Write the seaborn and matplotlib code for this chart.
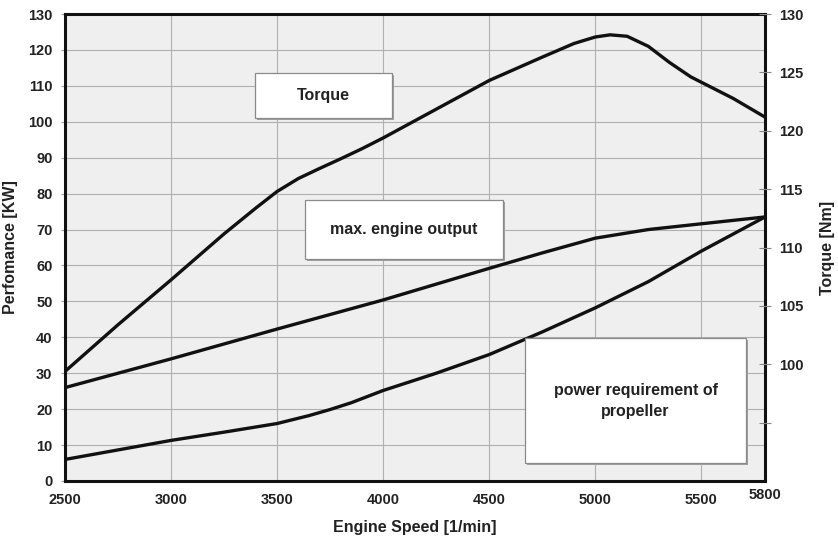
import matplotlib
matplotlib.use("Agg")
import matplotlib.pyplot as plt
import seaborn as sns
import pandas as pd
from matplotlib.patches import Rectangle

# ---- data ----
torque_rpm = [2500, 2750, 3000, 3250, 3400, 3500, 3600, 3700, 3800, 3900, 4000, 4250, 4500, 4750, 4900, 5000, 5070, 5150, 5250, 5350, 5450, 5550, 5650, 5800]
torque_val = [30.5, 43.5, 56.0, 68.8, 76.0, 80.6, 84.2, 87.0, 89.7, 92.5, 95.5, 103.5, 111.5, 118.0, 121.8, 123.6, 124.2, 123.8, 121.0, 116.5, 112.5, 109.5, 106.5, 101.3]

output_rpm = [2500, 3000, 3500, 4000, 4500, 4750, 5000, 5250, 5500, 5800]
output_val = [26.0, 34.0, 42.3, 50.4, 59.2, 63.5, 67.6, 70.0, 71.6, 73.5]

prop_rpm = [2500, 3000, 3250, 3500, 3650, 3750, 3850, 4000, 4250, 4500, 4750, 5000, 5250, 5500, 5800]
prop_val = [6.0, 11.3, 13.6, 16.0, 18.2, 19.9, 21.8, 25.2, 30.0, 35.2, 41.5, 48.2, 55.5, 64.0, 73.5]

x_ticks = [2500, 3000, 3500, 4000, 4500, 5000, 5500, 5800]
left_ticks = list(range(0, 131, 10))
right_ticks = [95, 100, 105, 110, 115, 120, 125, 130]
right_labels = ["", "100", "105", "110", "115", "120", "125", "130"]

labels = [
    ("Torque", 3396, 4042, 101.1, 113.6),
    ("max. engine output", 3632, 4565, 61.8, 78.2),
    ("power requirement of\npropeller", 4669, 5711, 5.0, 39.8),
]

sns.set_theme(style="whitegrid")
plt.rcParams["font.family"] = ["Liberation Sans", "DejaVu Sans"]

fig = plt.figure(figsize=(8.38, 5.46), dpi=100)
ax = fig.add_axes([65 / 838, 1 - 481 / 546, 700 / 838, 467 / 546])
ax.set_facecolor("#efefef")

for rpm, val in [(torque_rpm, torque_val), (output_rpm, output_val), (prop_rpm, prop_val)]:
    df = pd.DataFrame({"rpm": rpm, "val": val})
    sns.lineplot(data=df, x="rpm", y="val", ax=ax, color="#111111", lw=2.4, zorder=3)

ax.set_xlim(2500, 5800)
ax.set_ylim(0, 130)
ax.set_xticks(x_ticks)
ax.set_yticks(left_ticks)
ax.grid(True, color="#b0b0b0", lw=0.8)
ax.set_axisbelow(True)
for s in ax.spines.values():
    s.set_color("#111111")
    s.set_linewidth(2.2)
    s.set_visible(True)

TS = 10.5
ax.tick_params(axis="both", which="major", length=3, width=0.8, color="#999999", pad=6,
               labelsize=TS, labelcolor="#222222")
for lab in ax.get_xticklabels() + ax.get_yticklabels():
    lab.set_fontweight("bold")
xl = ax.get_xticklabels()
xl[-1].set_y(0.012)

ax.set_xlabel("Engine Speed [1/min]", fontsize=11.5, fontweight="bold", color="#222222", labelpad=9)
ax.set_ylabel("Perfomance [KW]", fontsize=11.5, fontweight="bold", color="#222222", labelpad=7)

ax2 = ax.twinx()
ax2.set_ylim(90, 130)
ax2.set_yticks(right_ticks)
ax2.set_yticklabels(right_labels)
ax2.grid(False)
ax2.tick_params(axis="y", direction="inout", length=8, width=0.8, color="#888888", pad=6,
                labelsize=TS, labelcolor="#222222")
for lab in ax2.get_yticklabels():
    lab.set_fontweight("bold")
for s in ax2.spines.values():
    s.set_visible(False)
ax2.set_ylabel("Torque [Nm]", fontsize=11.5, fontweight="bold", color="#222222", labelpad=12)

for text, x0, x1, y0, y1 in labels:
    ax.add_patch(Rectangle((x0 + 8, y0 - 0.6), x1 - x0, y1 - y0, facecolor="#a0a0a0",
                           edgecolor="none", zorder=4))
    ax.add_patch(Rectangle((x0, y0), x1 - x0, y1 - y0, facecolor="white",
                           edgecolor="#8a8a8a", lw=0.9, zorder=5))
    ax.text((x0 + x1) / 2, (y0 + y1) / 2, text, ha="center", va="center", fontsize=11.5,
            fontweight="bold", color="#222222", zorder=6, linespacing=1.5)

fig.savefig("out.png", dpi=100, facecolor="white")
